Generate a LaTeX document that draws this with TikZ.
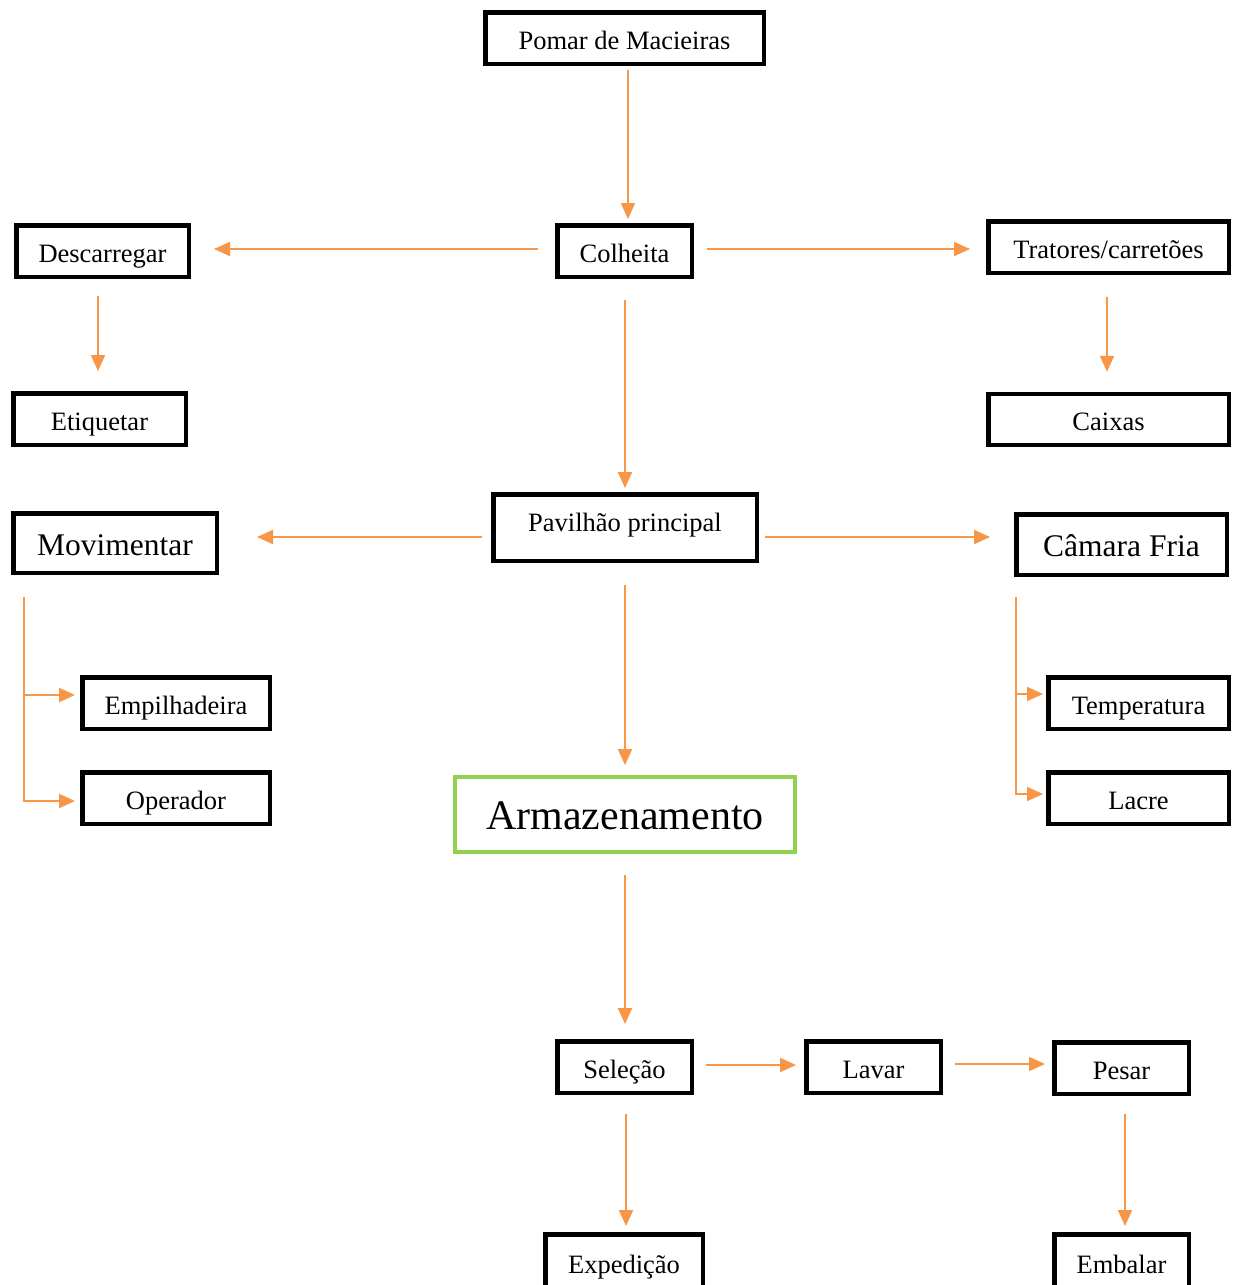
\documentclass[tikz,border=0pt]{standalone}
\usepackage{fontspec}
\setmainfont{Liberation Serif}
\usetikzlibrary{arrows.meta}
\definecolor{arrc}{HTML}{F79646}
\definecolor{grn}{HTML}{92D050}
\begin{document}
\begin{tikzpicture}[x=1pt,y=-1pt,
  box/.style={draw=black, line width=4.5pt, fill=white, inner sep=0pt, minimum height=51.5pt,
    font=\fontsize{26.5}{30}\selectfont, text height=22pt, text depth=0pt},
  bigtext/.style={font=\fontsize{31.5}{36}\selectfont, text height=24.5pt, text depth=0pt},
  arr/.style={draw=arrc, line width=2pt, -{Triangle[length=16pt,width=14pt]}}]
\useasboundingbox[fill=white] (0,0) rectangle (1235,1285);

\node[box, minimum width=278.5pt] (pomar) at (624.5,38) {Pomar de Macieiras};
\node[box, minimum width=134.5pt] (colheita) at (624.5,251) {Colheita};
\node[box, minimum width=172.5pt] (desc) at (102.5,251) {Descarregar};
\node[box, minimum width=240.5pt] (trat) at (1108.5,247) {Tratores/carretões};
\node[box, minimum width=172.5pt] (etiq) at (99.5,419) {Etiquetar};
\node[box, minimum width=240.5pt, minimum height=51pt] (caixas) at (1108.5,419.5) {Caixas};
\node[box, minimum width=263.5pt, minimum height=66.5pt] (pav) at (625,527.5) {\raisebox{7.5pt}{Pavilhão principal}};
\node[box, bigtext, minimum width=203.5pt, minimum height=59.5pt] (movi) at (115,543) {Movimentar};
\node[box, bigtext, minimum width=210.5pt, minimum height=60.5pt] (camara) at (1121.5,544.5) {Câmara Fria};
\node[box, minimum width=187.5pt] (empi) at (176,703) {Empilhadeira};
\node[box, minimum width=187.5pt] (oper) at (176,798) {Operador};
\node[box, minimum width=180.5pt] (temp) at (1138.5,703) {Temperatura};
\node[box, minimum width=180.5pt] (lacre) at (1138.5,798) {Lacre};
\node[box, draw=grn, line width=4pt, minimum width=340pt, minimum height=75pt,
  font=\fontsize{42}{48}\selectfont, text height=29.5pt, text depth=0pt] (armaz) at (625,814.5) {Armazenamento};
\node[box, minimum width=134.5pt] (sel) at (624.5,1067) {Seleção};
\node[box, minimum width=134.5pt] (lavar) at (873.5,1067) {Lavar};
\node[box, minimum width=134.5pt] (pesar) at (1121.5,1068) {Pesar};
\node[box, minimum width=157.5pt, minimum height=55.5pt] (exped) at (624,1262) {Expedição};
\node[box, minimum width=134.5pt, minimum height=55.5pt] (emb) at (1121.5,1262) {Embalar};

% connectors
\draw[arr, shorten <=4pt, shorten >=4pt] ([xshift=3.5pt]pomar.south) -- ([xshift=3.5pt]pomar.south |- colheita.north);
\draw[arr, shorten <=17pt, shorten >=23pt] ([yshift=2pt]colheita.west) -- ([yshift=2pt]colheita.west -| desc.east);
\draw[arr, shorten <=13pt, shorten >=16pt] ([yshift=2pt]colheita.east) -- ([yshift=2pt]colheita.east -| trat.west);
\draw[arr, shorten <=17pt, shorten >=20pt] ([xshift=-4.5pt]desc.south) -- ([xshift=-4.5pt]desc.south |- etiq.north);
\draw[arr, shorten <=22pt, shorten >=20pt] ([xshift=-1.5pt]trat.south) -- ([xshift=-1.5pt]trat.south |- caixas.north);
\draw[arr, shorten <=21pt, shorten >=4pt] ([xshift=0.5pt]colheita.south) -- ([xshift=0.5pt]colheita.south |- pav.north);
\draw[arr, shorten <=9pt, shorten >=38pt] ([yshift=-9.5pt]pav.west) -- ([yshift=-9.5pt]pav.west -| movi.east);
\draw[arr, shorten <=6pt, shorten >=24pt] ([yshift=-9.5pt]pav.east) -- ([yshift=-9.5pt]pav.east -| camara.west);
\draw[arr, shorten <=22pt, shorten >=10pt] (pav.south) -- (pav.south |- armaz.north);

\coordinate (mb) at ([xshift=13pt,yshift=-22pt]movi.south west);
\draw[arr] (mb) |- ([xshift=-5pt,yshift=8pt]empi.west);
\draw[arr] (mb) |- ([xshift=-5pt,yshift=-3pt]oper.west);
\coordinate (cb) at ([xshift=2pt,yshift=-20pt]camara.south west);
\draw[arr] (cb) |- ([xshift=-3pt,yshift=9pt]temp.west);
\draw[arr] (cb) |- ([xshift=-3pt,yshift=4pt]lacre.west);

\draw[arr, shorten <=21pt, shorten >=15pt] (armaz.south) -- (armaz.south |- sel.north);
\draw[arr, shorten <=12pt, shorten >=8pt] ([yshift=2pt]sel.east) -- ([yshift=2pt]sel.east -| lavar.west);
\draw[arr, shorten <=12pt, shorten >=7pt] ([yshift=3pt]lavar.east) -- ([yshift=3pt]lavar.east -| pesar.west);
\draw[arr, shorten <=19pt, shorten >=6pt] ([xshift=1.5pt]sel.south) -- ([xshift=1.5pt]sel.south |- exped.north);
\draw[arr, shorten <=18pt, shorten >=6pt] ([xshift=3.5pt]pesar.south) -- ([xshift=3.5pt]pesar.south |- emb.north);
\end{tikzpicture}
\end{document}
